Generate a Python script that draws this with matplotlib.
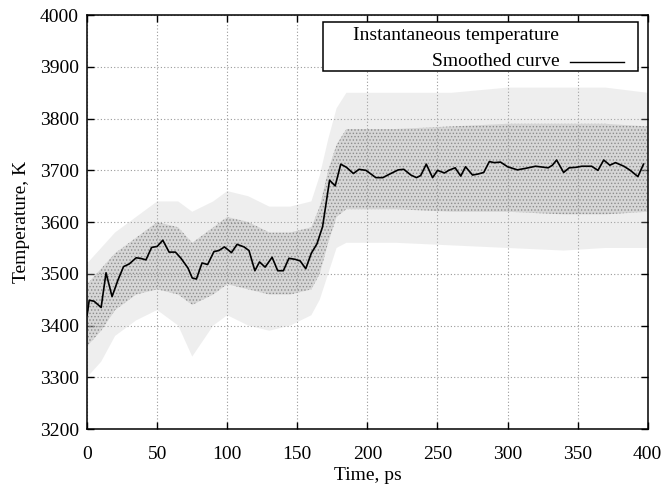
import matplotlib
matplotlib.use('Agg')
import matplotlib.pyplot as plt
from matplotlib.patches import Rectangle

plt.rcParams['font.family'] = ['Liberation Serif', 'DejaVu Serif']
plt.rcParams['hatch.linewidth'] = 0.6

# Smoothed curve
smooth_t = [0, 1.5, 5, 10, 13.5, 17.8, 22, 26, 30, 35, 38, 42, 46, 50, 54, 58.5,
            63, 67, 72, 75, 78, 82, 86, 90.5, 94, 98, 103, 107, 112, 115.5, 119.7,
            123, 127, 132, 136, 140, 144, 148.5, 152, 156, 160, 164, 168, 173, 177,
            181, 185, 190, 194, 199, 206, 211, 216, 222, 226, 231, 235, 238, 242,
            246.5, 250, 255, 258, 262.6, 266.6, 270, 275, 279, 283, 287, 290.5, 295,
            300, 307, 313, 320, 329, 332, 335, 340, 344, 349, 353, 360, 364.5, 368.6,
            373, 377, 383, 387.6, 393, 397]
smooth_T = [3420, 3449, 3447, 3435, 3502, 3456, 3488, 3514, 3519, 3531, 3530, 3527,
            3551, 3553, 3565, 3542, 3542, 3530, 3511, 3492, 3490, 3521, 3518, 3543,
            3545, 3552, 3541, 3557, 3552, 3545, 3506, 3523, 3513, 3532, 3506, 3506,
            3530, 3528, 3525, 3510, 3540, 3558, 3591, 3681, 3670, 3712, 3706, 3694,
            3702, 3700, 3686, 3686, 3693, 3701, 3702, 3691, 3686, 3690, 3712, 3686,
            3700, 3695, 3700, 3705, 3689, 3707, 3691, 3693, 3696, 3717, 3715, 3716,
            3707, 3701, 3704, 3708, 3705, 3710, 3720, 3696, 3705, 3706, 3708, 3708,
            3700, 3720, 3710, 3715, 3708, 3700, 3688, 3712]

# Spread of the instantaneous temperature cloud (sparse and dense parts)
cloud_t = [0, 10, 20, 35, 50, 65, 75, 90, 100, 115, 130, 145, 160, 166, 172, 178,
           185, 220, 260, 300, 340, 370, 400]
outer_lo = [3300, 3330, 3380, 3410, 3430, 3400, 3340, 3400, 3420, 3400, 3390, 3400,
            3420, 3450, 3500, 3550, 3560, 3560, 3555, 3550, 3545, 3550, 3550]
outer_hi = [3520, 3550, 3580, 3610, 3640, 3640, 3620, 3640, 3660, 3650, 3630, 3630,
            3640, 3690, 3760, 3820, 3850, 3850, 3850, 3860, 3860, 3860, 3850]
inner_lo = [3360, 3390, 3430, 3460, 3470, 3460, 3440, 3460, 3480, 3470, 3460, 3460,
            3470, 3500, 3560, 3610, 3625, 3625, 3620, 3620, 3615, 3615, 3620]
inner_hi = [3480, 3510, 3540, 3570, 3600, 3590, 3560, 3590, 3610, 3600, 3580, 3580,
            3590, 3630, 3700, 3750, 3780, 3780, 3785, 3790, 3790, 3790, 3785]

xticks = list(range(0, 401, 50))
yticks = list(range(3200, 4001, 100))

fig = plt.figure(figsize=(6.65, 4.84), dpi=100)
ax = fig.add_axes([0.131, 0.1136, 0.843, 0.855])
ax.set_axisbelow(True)

# cloud as light stippled bands
ax.fill_between(cloud_t, outer_lo, outer_hi, facecolor='#bdbdbd', alpha=0.25,
                linewidth=0, zorder=1)
ax.fill_between(cloud_t, inner_lo, inner_hi, facecolor='#a0a0a0', alpha=0.3,
                linewidth=0, zorder=1)
ax.fill_between(cloud_t, inner_lo, inner_hi, facecolor='none', edgecolor='#8c8c8c',
                hatch='.....', linewidth=0, zorder=1)

ax.plot(smooth_t, smooth_T, color='black', linewidth=1.2, zorder=3)

ax.set_xlim(0, 400)
ax.set_ylim(3200, 4000)
ax.set_xticks(xticks)
ax.set_yticks(yticks)
ax.grid(True, linestyle=(0, (1, 2)), color='#9a9a9a', linewidth=0.8)
ax.tick_params(direction='in', length=5, width=1, top=True, right=True,
               labelsize=14)
ax.tick_params(axis='x', pad=12)
ax.tick_params(axis='y', pad=6)
for s in ax.spines.values():
    s.set_linewidth(1.1)
    s.set_zorder(4)

ax.set_xlabel('Time, ps', fontsize=14, labelpad=3)
ax.set_ylabel('Temperature, K', fontsize=14, labelpad=7)

# gnuplot-style key box
ax.add_patch(Rectangle((0.42, 0.865), 0.562, 0.119, transform=ax.transAxes,
                       facecolor='white', edgecolor='black', linewidth=1.1, zorder=5))
ax.text(0.842, 0.951, 'Instantaneous temperature', transform=ax.transAxes,
        ha='right', va='center', fontsize=14, zorder=6)
ax.text(0.842, 0.888, 'Smoothed curve', transform=ax.transAxes,
        ha='right', va='center', fontsize=14, zorder=6)
ax.plot([0.862, 0.958], [0.888, 0.888], transform=ax.transAxes, color='black',
        linewidth=1.0, zorder=6)

fig.savefig('out.png', dpi=100)
